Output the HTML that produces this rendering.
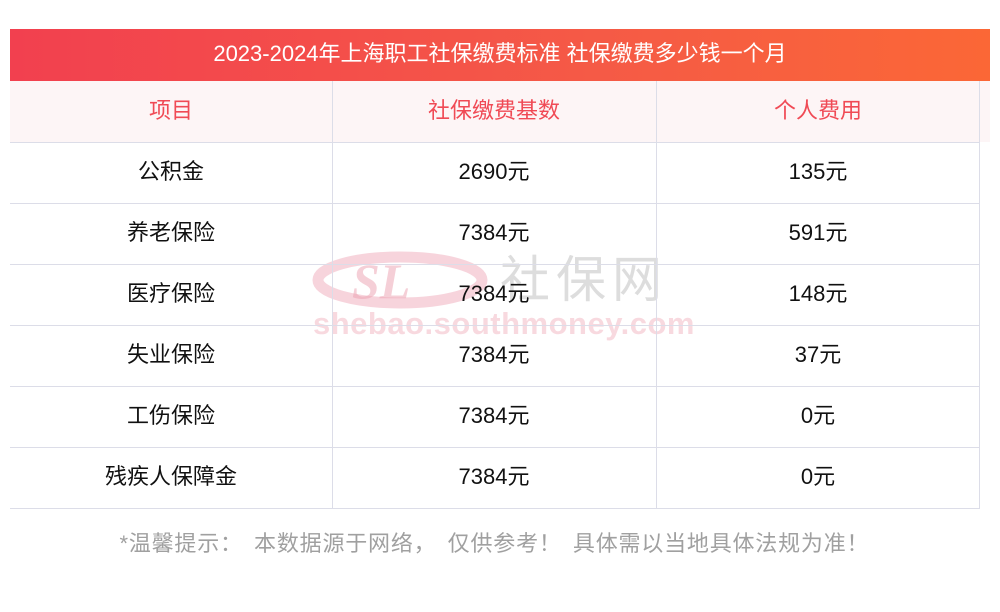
<!DOCTYPE html><html><head><meta charset="utf-8"><style>
body{margin:0;width:1000px;height:612px;background:#fff;font-family:"Liberation Sans","Noto Sans CJK SC",sans-serif;position:relative;overflow:hidden}
.t{position:absolute;left:10px;top:29px;width:980px;height:52px;background:linear-gradient(90deg,#f2404f,#f55a46 60%,#fb6736);color:#fff;font-size:22px;line-height:50px;text-align:center}
.hb{position:absolute;left:10px;top:81px;width:980px;height:61px;background:#fdf5f6}
.c{position:absolute;text-align:center;font-size:22px;line-height:59px;color:#111}
.h{color:#f04a55}
.hl{position:absolute;left:10px;width:970px;height:1px;background:#dcdde8}
.vl{position:absolute;top:81px;height:427px;width:1px;background:#dcdde8}
.ft{position:absolute;left:0;width:1000px;top:527px;text-align:center;font-size:22px;color:#a0a0a0;line-height:34px;letter-spacing:0.8px}
.p{letter-spacing:12px}
</style></head><body>
<div class="t">2023-2024年上海职工社保缴费标准 社保缴费多少钱一个月</div>
<div class="hb"></div>
<svg style="position:absolute;left:312px;top:250px" width="190" height="60"><ellipse cx="88" cy="30" rx="82" ry="23" fill="none" stroke="rgba(240,170,185,.5)" stroke-width="11"/><text x="40" y="48" font-size="50" font-style="italic" font-weight="bold" fill="rgba(235,160,175,.5)" font-family="Liberation Serif">SL</text></svg>
<div style="position:absolute;left:500px;top:250px;font-size:50px;line-height:60px;color:rgba(170,170,170,.4);letter-spacing:6px">社保网</div>
<div style="position:absolute;left:313px;top:306px;font-size:31px;color:rgba(240,170,185,.45);font-weight:bold;letter-spacing:0.5px">shebao.southmoney.com</div>
<div class="vl" style="left:332px"></div><div class="vl" style="left:656px"></div><div class="vl" style="left:979px"></div>
<div class="hl" style="top:142px"></div><div class="hl" style="top:203px"></div><div class="hl" style="top:264px"></div><div class="hl" style="top:325px"></div><div class="hl" style="top:386px"></div><div class="hl" style="top:447px"></div><div class="hl" style="top:508px"></div>
<div class="c h" style="left:10px;width:322px;top:81px">项目</div><div class="c h" style="left:332px;width:324px;top:81px">社保缴费基数</div><div class="c h" style="left:656px;width:324px;top:81px">个人费用</div>
<div class="c" style="left:10px;width:322px;top:142px">公积金</div><div class="c" style="left:332px;width:324px;top:142px">2690元</div><div class="c" style="left:656px;width:324px;top:142px">135元</div>
<div class="c" style="left:10px;width:322px;top:203px">养老保险</div><div class="c" style="left:332px;width:324px;top:203px">7384元</div><div class="c" style="left:656px;width:324px;top:203px">591元</div>
<div class="c" style="left:10px;width:322px;top:264px">医疗保险</div><div class="c" style="left:332px;width:324px;top:264px">7384元</div><div class="c" style="left:656px;width:324px;top:264px">148元</div>
<div class="c" style="left:10px;width:322px;top:325px">失业保险</div><div class="c" style="left:332px;width:324px;top:325px">7384元</div><div class="c" style="left:656px;width:324px;top:325px">37元</div>
<div class="c" style="left:10px;width:322px;top:386px">工伤保险</div><div class="c" style="left:332px;width:324px;top:386px">7384元</div><div class="c" style="left:656px;width:324px;top:386px">0元</div>
<div class="c" style="left:10px;width:322px;top:447px">残疾人保障金</div><div class="c" style="left:332px;width:324px;top:447px">7384元</div><div class="c" style="left:656px;width:324px;top:447px">0元</div>
<div class="ft">*温馨提示<span class="p">：</span>本数据源于网络<span class="p">，</span>仅供参考<span class="p">！</span>具体需以当地具体法规为准<span class="p">！</span></div>
</body></html>
